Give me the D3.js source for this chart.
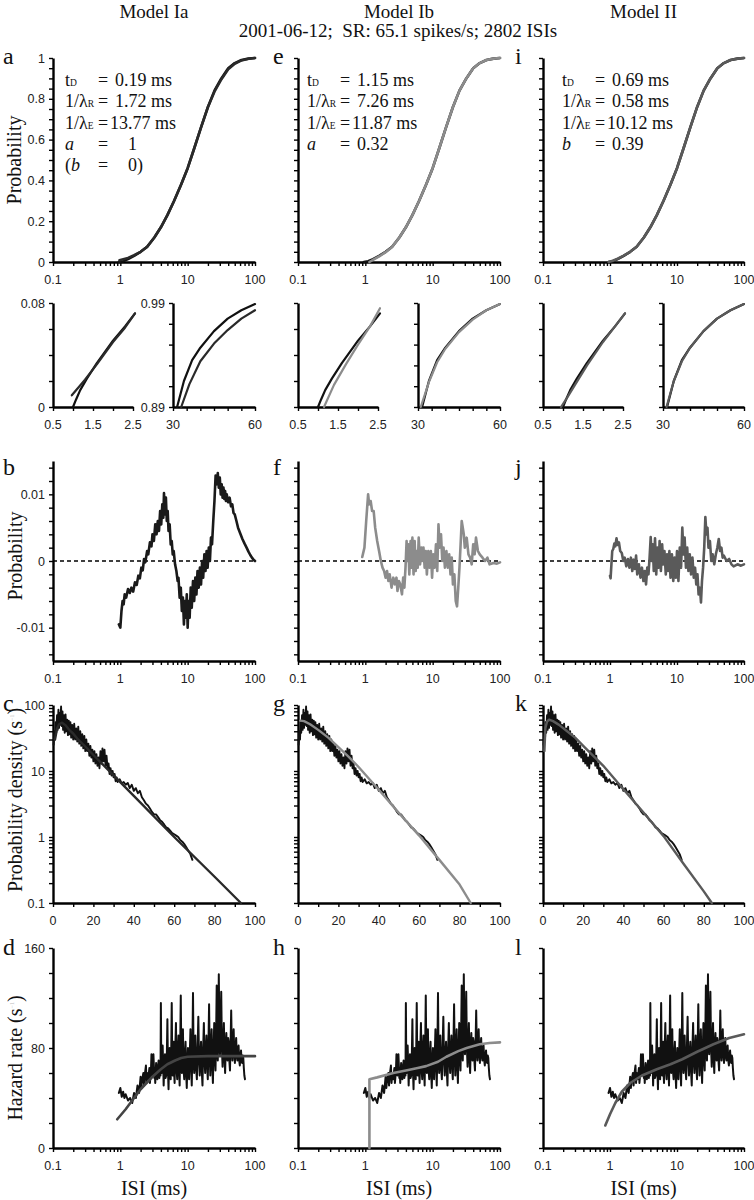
<!DOCTYPE html>
<html>
<head>
<meta charset="utf-8">
<title>ISI distribution fits</title>
<script src="https://cdn.jsdelivr.net/npm/d3@7"></script>
<style>
  body { margin: 0; background: #fff; }
  svg text { font-family: "Liberation Serif", "Times New Roman", serif; fill: #111; }
  svg text.tick-lab { font-family: "Liberation Sans", Arial, sans-serif; font-size: 12.5px; fill: #222; }
</style>
</head>
<body>
<svg id="fig" width="754" height="1200"></svg>
<script>
// ---- text ----
var modelTitles = ["Model Ia", "Model Ib", "Model II"];
var subtitle = "2001-06-12;  SR: 65.1 spikes/s; 2802 ISIs";
var panelLetters = [["a","b","c","d"], ["e","f","g","h"], ["i","j","k","l"]];
var paramNames = [["tD","R","E","a","(b"], ["tD","R","E","a"], ["tD","R","E","b"]];
var paramValues = [["0.19 ms","1.72 ms","13.77 ms","1","0)"],
                   ["1.15 ms","7.26 ms","11.87 ms","0.32"],
                   ["0.69 ms","0.58 ms","10.12 ms","0.39"]];

// ---- tick labels ----
var logLabels = [0.1, 1, 10, 100];
var cdfYLabels = [0, 0.2, 0.4, 0.6, 0.8, 1];
var residYLabels = [-10, 0, 10];      // x 1e-3
var densYLabels = [0.1, 1, 10, 100];
var densXLabels = [0, 20, 40, 60, 80, 100];
var hazYLabels = [0, 80, 160];
var insetLXLabels = [0.5, 1.5, 2.5];
var insetLYLabels = [0, 0.08];
var insetRXLabels = [30, 60];
var insetRYLabels = [0.89, 0.99];

// ---- cumulative distribution (ISI ms, probability) ----
var cdfData = [[0.95,0],[1.1,0.004],[1.3,0.014],[1.6,0.03],[2,0.05],[2.5,0.075],[3.2,0.12],[4,0.17],[5,0.23],[6.3,0.3],[8,0.38],[10,0.46],[12.6,0.56],[15.8,0.66],[20,0.76],[25,0.84],[31.6,0.9],[40,0.95],[50,0.975],[63,0.99],[80,0.997],[100,1]];
var cdfIa = [[0.97,0.009],[1.3,0.02],[1.6,0.033],[2,0.05],[2.5,0.074],[3.2,0.12],[4,0.17],[5,0.23],[6.3,0.3],[8,0.38],[10,0.46],[12.6,0.56],[15.8,0.66],[20,0.76],[25,0.835],[31.6,0.895],[40,0.945],[50,0.972],[63,0.988],[80,0.996],[100,1]];
var cdfIb = [[1.15,0],[1.4,0.017],[1.7,0.033],[2,0.048],[2.5,0.074],[3.2,0.12],[4,0.17],[5,0.23],[6.3,0.3],[8,0.38],[10,0.46],[12.6,0.56],[15.8,0.66],[20,0.76],[25,0.84],[31.6,0.9],[40,0.95],[50,0.975],[63,0.99],[80,0.997],[100,1]];
var cdfII = [[0.95,0],[1.1,0.006],[1.3,0.016],[1.6,0.031],[2,0.05],[2.5,0.075],[3.2,0.12],[4,0.17],[5,0.23],[6.3,0.3],[8,0.38],[10,0.46],[12.6,0.56],[15.8,0.66],[20,0.76],[25,0.84],[31.6,0.9],[40,0.95],[50,0.975],[63,0.99],[80,0.997],[100,1]];

// ---- insets: early part (0.5-2.5 ms) and tail (30-60 ms) ----
var earlyData = [[1.0,0],[1.08,0.006],[1.18,0.013],[1.35,0.022],[1.6,0.034],[2.0,0.051],[2.3,0.062],[2.55,0.072]];
var earlyIa = [[0.97,0.009],[1.3,0.021],[1.6,0.033],[2.0,0.05],[2.3,0.061],[2.55,0.072]];
var earlyIb = [[1.15,0],[1.4,0.017],[1.7,0.033],[2.0,0.048],[2.3,0.062],[2.55,0.076]];
var earlyII = [[0.95,0],[1.1,0.007],[1.3,0.017],[1.6,0.032],[2.0,0.05],[2.3,0.062],[2.55,0.072]];
var tailData = [[31.5,0.89],[34,0.915],[37,0.935],[40,0.947],[45,0.963],[50,0.975],[55,0.983],[60,0.989]];
var tailIa = [[33,0.89],[36,0.912],[40,0.934],[45,0.951],[50,0.964],[55,0.975],[60,0.983]];
var tailIb = [[31,0.89],[34,0.914],[37,0.933],[40,0.946],[45,0.962],[50,0.974],[55,0.983],[60,0.989]];
var tailII = [[31.3,0.89],[34,0.915],[37,0.934],[40,0.947],[45,0.963],[50,0.975],[55,0.983],[60,0.989]];

// ---- residuals, probability x 1e-3 ----
var residIa = [[0.95,-9.5],[1.0,-10],[1.04,-7.5],[1.08,-6],[1.12,-6.5],[1.16,-5],[1.22,-5.5],[1.3,-4.2],[1.38,-4.8],[1.46,-4],[1.55,-4.6],[1.65,-3.2],[1.75,-3.6],[1.85,-2.2],[1.95,-2.6],[2.05,-1],[2.15,-1.4],[2.25,0.3],[2.35,-0.2],[2.5,1.5],[2.6,1],[2.75,2.8],[2.9,2.2],[3.0,4],[3.15,3],[3.3,5.5],[3.45,4],[3.6,6],[3.75,4.5],[3.9,7.5],[4.05,5.5],[4.2,8.5],[4.35,6.5],[4.45,10.2],[4.6,7],[4.75,9.5],[4.9,6],[5.05,7.5],[5.2,4.5],[5.4,5.5],[5.6,2.5],[5.8,3],[6.0,1],[6.2,1.5],[6.5,-0.5],[6.8,-1.5],[7.1,-3],[7.3,-2.5],[7.6,-5.5],[7.9,-4],[8.2,-7.5],[8.5,-5.5],[8.8,-9.5],[9.1,-6],[9.4,-8.5],[9.7,-5],[10,-10],[10.3,-6],[10.7,-8.5],[11.1,-4],[11.5,-7],[12,-3],[12.5,-6],[13,-2.5],[13.5,-5],[14,-1.5],[14.6,-4],[15.2,-1],[15.8,-3.5],[16.4,0],[17,-2.5],[17.7,1],[18.4,-1.5],[19.1,1.5],[19.8,-1],[20.6,2],[21.4,0],[22.2,3.5],[23,2.5],[24,6],[25,9],[26,12.8],[27,11.5],[28,13.2],[29,11],[30,12.5],[31,10],[32,11.5],[33,9.5],[34,11],[35,9.3],[36,10.5],[37,9],[38,10],[40,8.8],[42,9.5],[44,8.2],[46,8.5],[48,7.2],[50,7],[53,6],[56,5],[60,4.2],[65,3.3],[70,2.6],[75,2],[80,1.4],[85,0.9],[90,0.5],[95,0.2],[100,0]];
var residIb = [[0.9,0.6],[0.97,2],[1.03,6],[1.1,10],[1.14,8.5],[1.2,9],[1.26,7.5],[1.33,7.5],[1.4,5],[1.5,3],[1.6,1.5],[1.7,0],[1.8,-1],[1.9,-1.5],[2.0,-2.5],[2.1,-1.5],[2.2,-3],[2.3,-2],[2.45,-4],[2.6,-2.5],[2.75,-3.5],[2.9,-2.5],[3.0,-4.5],[3.15,-3],[3.3,-3.5],[3.5,-5],[3.65,-2.5],[3.8,-4],[3.95,-1],[4.1,3],[4.2,0],[4.35,2.5],[4.5,-2],[4.7,3],[4.85,-1],[5.0,3.5],[5.2,-2],[5.4,3],[5.6,-1.5],[5.8,1.5],[6,-1],[6.2,3.5],[6.5,-0.5],[6.8,2],[7,0],[7.3,2],[7.6,-1],[7.9,1.5],[8.2,-2],[8.6,1.5],[9,-1],[9.4,1.5],[9.8,-2.5],[10.2,1],[10.7,-1],[11.2,2.5],[11.7,-1.5],[12.2,5.5],[12.7,2],[13.3,4],[13.9,0],[14.5,2],[15.2,-1],[16,1.5],[16.8,-1],[17.6,1],[18.4,-2],[19.2,0.5],[20,-3.5],[21,-2],[22,-6],[23,-6.8],[24,-4],[25,-1],[26,2.5],[27,6],[28,5],[29,4],[30,2],[32,3.5],[34,1],[36,0.5],[38,-0.5],[40,2.5],[42,1],[44,3.5],[47,1.5],[50,1],[55,0.5],[60,0],[65,0.5],[70,-0.5],[80,-0.3],[90,-0.4],[100,-0.2]];
var residII = [[1.0,-2.2],[1.02,-2.6],[1.05,-0.5],[1.08,1.5],[1.12,1.8],[1.16,2.6],[1.2,2.2],[1.25,3.4],[1.3,2.4],[1.36,2.8],[1.42,1.5],[1.5,1.2],[1.58,0],[1.66,0.5],[1.75,-0.8],[1.85,0.3],[1.95,-1],[2.05,0.5],[2.15,-1.5],[2.25,0.2],[2.35,-1.2],[2.45,0.8],[2.55,-2],[2.7,-0.5],[2.85,-2.5],[3.0,-1],[3.15,-3],[3.3,-1.5],[3.45,-3.5],[3.6,-1],[3.75,-2],[3.9,0.5],[4.05,3.6],[4.2,0],[4.35,2.5],[4.5,-1.5],[4.7,3.4],[4.9,-2],[5.1,2],[5.3,-1],[5.5,3],[5.75,-1.5],[6.0,2.5],[6.25,-0.5],[6.5,1.5],[6.8,-2],[7.1,1],[7.4,-1.5],[7.7,1.5],[8.0,-2.5],[8.4,1],[8.8,-3],[9.2,0.5],[9.6,-2.5],[10,1.5],[10.5,-3],[11,2],[11.5,-1],[12,5],[12.5,1],[13,3.5],[13.6,-1],[14.2,2],[14.8,-1.5],[15.5,1],[16.2,-2],[17,0.5],[17.8,-2.5],[18.6,-1],[19.4,-3.5],[20.2,-2],[21,-5],[22,-4],[22.8,-6.2],[23.6,-3],[24.5,-1],[25.5,2],[26.5,6.6],[27.5,4],[28.5,5],[29.5,2],[31,3],[32.5,0],[34,1],[36,-0.5],[38,1],[40,2],[42,3.3],[44,1.5],[46,2],[48,0.5],[50,0.8],[55,0],[60,0.3],[65,-0.5],[70,-0.8],[80,-0.5],[90,-0.7],[100,-0.5]];

// ---- probability density (ISI ms, 1/s) ----
var densData = [[0.3,25],[0.7,40],[1.0,30],[1.3,55],[1.6,38],[2.0,70],[2.3,42],[2.7,85],[3.0,45],[3.3,75],[3.6,50],[4.0,95],[4.3,48],[4.7,80],[5.0,42],[5.4,70],[5.8,38],[6.2,72],[6.6,40],[7.0,60],[7.4,35],[7.8,58],[8.2,36],[8.6,55],[9.0,32],[9.5,50],[10,30],[10.5,52],[11,30],[11.5,44],[12,28],[12.5,47],[13,26],[13.5,40],[14,24],[14.5,36],[15,22],[15.5,34],[16,20],[16.5,30],[17,20],[17.5,26],[18,17],[18.5,24],[19,16],[19.5,21],[20,14],[20.5,20],[21,13],[21.5,18],[22,12],[22.5,16],[23,11],[23.5,20],[24,13],[24.5,22],[25,14],[25.5,21],[26,12],[26.5,17],[27,11],[27.5,13],[28,9],[28.5,11],[29,8.5],[29.5,10],[30,8],[30.5,9],[31,7],[31.5,8],[32,6.8],[33,7.5],[34,6.5],[35,6.8],[36,6.2],[37,6.6],[38,5.5],[39,6.2],[40,5],[41,5.5],[42,4.6],[43,5],[44,4],[45,3.6],[46,3.2],[47,3],[48,2.7],[49,2.4],[50,2.2],[51,2.2],[52,2.0],[53,1.8],[54,1.7],[55,1.55],[56,1.4],[57,1.35],[58,1.25],[59,1.15],[60,1.1],[61,1.05],[62,1.0],[63,0.9],[64,0.85],[65,0.78],[66,0.7],[67,0.62],[68,0.55],[69,0.45]];
var densIa = [[1,30],[2,44],[3,51],[4.5,54],[6,50],[8,42],[10,37],[12,31],[16,23.5],[20,17.5],[30,8.6],[40,4.2],[60,1.0],[80,0.25],[93,0.1]];
var densIb = [[1.15,58],[3,57],[6,51],[10,42],[15,32],[20,23],[25,16.5],[30,11.5],[40,5.2],[50,2.3],[60,1.05],[70,0.45],[80,0.19],[85.5,0.1]];
var densII = [[0.7,20],[1.2,45],[2,56],[3,60],[5,57],[8,50],[12,40],[16,32],[20,24],[25,17],[30,12],[40,5.3],[50,2.35],[60,1.03],[70,0.39],[80,0.15],[84,0.1]];

// ---- hazard rate (ISI ms, 1/s) ----
var hazData = [[0.95,44],[1.0,48],[1.05,41],[1.1,45],[1.15,40],[1.2,43],[1.3,38],[1.4,40],[1.5,36],[1.6,44],[1.7,40],[1.8,50],[1.9,44],[2.0,57],[2.05,48],[2.1,54],[2.2,60],[2.25,50],[2.3,58],[2.4,66],[2.45,52],[2.5,60],[2.6,55],[2.7,64],[2.75,52],[2.85,62],[2.9,75],[3.0,58],[3.05,66],[3.1,75],[3.2,56],[3.25,62],[3.3,52],[3.4,68],[3.5,60],[3.55,55],[3.65,66],[3.7,70],[3.8,56],[3.85,64],[3.95,58],[4.0,116],[4.05,72],[4.1,60],[4.2,75],[4.25,82],[4.35,62],[4.4,50],[4.5,68],[4.6,75],[4.7,56],[4.8,58],[4.9,72],[5.0,103],[5.1,62],[5.2,47],[5.3,70],[5.4,80],[5.5,60],[5.6,55],[5.7,78],[5.8,116],[5.9,70],[6.0,58],[6.1,74],[6.2,85],[6.3,60],[6.4,52],[6.55,80],[6.7,100],[6.85,62],[7.0,55],[7.15,78],[7.3,90],[7.45,64],[7.6,50],[7.75,82],[7.9,122],[8.05,72],[8.2,60],[8.35,80],[8.5,95],[8.7,62],[8.9,55],[9.1,74],[9.3,85],[9.5,60],[9.7,48],[9.9,68],[10.1,80],[10.3,62],[10.5,55],[10.75,75],[11,95],[11.25,66],[11.5,50],[11.75,78],[12,124],[12.25,72],[12.5,60],[12.75,76],[13,90],[13.35,64],[13.7,55],[14.05,80],[14.4,105],[14.75,70],[15.1,58],[15.45,74],[15.8,85],[16.2,62],[16.6,50],[17,80],[17.4,100],[17.8,70],[18.2,60],[18.6,78],[19,90],[19.45,66],[19.9,55],[20.35,82],[20.8,115],[21.25,74],[21.7,58],[22.2,80],[22.7,95],[23.2,66],[23.7,52],[24.25,78],[24.8,100],[25.35,72],[25.9,62],[26.45,90],[27,130],[27.5,85],[28,70],[28.5,95],[29,139],[29.6,90],[30.2,75],[30.85,100],[31.5,125],[32.25,80],[33,65],[33.75,84],[34.5,100],[35.25,72],[36,60],[36.75,80],[37.5,92],[38.25,74],[39,70],[39.85,88],[40.7,85],[41.6,70],[42.5,62],[43.4,84],[44.3,110],[45.25,80],[46.2,70],[47.2,84],[48.2,95],[49.25,75],[50.3,68],[51.4,80],[52.5,88],[53.6,74],[54.7,70],[55.85,78],[57,82],[58.25,70],[59.5,66],[60.75,74],[62,78],[63.25,70],[64.5,68],[65.75,74],[67,72],[68.25,64],[69.5,58],[71,55]];
var hazIa = [[0.9,23],[1.2,31],[1.5,38],[2,47],[3,57],[4,63],[5,67],[6.5,70],[8,72],[10,73],[20,73.5],[50,73.5],[100,73.5]];
var hazIb = [[1.15,0],[1.15,55],[1.5,56.5],[2.6,60],[4,62],[6,64],[8,65.5],[12,69],[16,73],[24,77.5],[32,80],[50,83],[70,84],[100,84.5]];
var hazII = [[0.85,18],[1.0,27],[1.2,36],[1.5,45],[2,52],[3,58],[5,63],[8,67],[12,71],[20,77],[35,83],[60,88],[100,91]];

var svg = d3.select("#fig");
var colX = [[53,255],[298,500],[543,744]];
var modelColor = ["#2a2a2a", "#8c8c8c", "#5a5a5a"];
var nameX = [65, 307, 562];

var cdfModels = [cdfIa, cdfIb, cdfII];
var earlyModels = [earlyIa, earlyIb, earlyII];
var tailModels = [tailIa, tailIb, tailII];
var residModels = [residIa, residIb, residII];
var densModels = [densIa, densIb, densII];
var hazModels = [hazIa, hazIb, hazII];

function axes(g, x, y, xt, yt) {
  var xa = g.append("g").attr("transform", "translate(0," + y.range()[0] + ")")
    .call(d3.axisBottom(x).tickValues(xt).tickSize(4).tickSizeOuter(0).tickFormat(""));
  var ya = g.append("g").attr("transform", "translate(" + x.range()[0] + ",0)")
    .call(d3.axisLeft(y).tickValues(yt).tickSize(4).tickSizeOuter(0).tickFormat(""));
  [xa, ya].forEach(function(a) {
    a.select(".domain").attr("stroke", "#000").attr("stroke-width", 2.4);
    a.selectAll(".tick line").attr("stroke", "#000").attr("stroke-width", 1.4);
  });
}

function xLabels(g, x, y, vals, fmt) {
  g.selectAll(null).data(vals).join("text").attr("class", "tick-lab")
    .attr("x", function(d) { return x(d); }).attr("y", y.range()[0] + 22)
    .attr("text-anchor", "middle").text(fmt || String);
}
function yLabels(g, x, y, vals, fmt) {
  g.selectAll(null).data(vals).join("text").attr("class", "tick-lab")
    .attr("x", x.range()[0] - 8).attr("y", function(d) { return y(d) + 4.5; })
    .attr("text-anchor", "end").text(fmt || String);
}
function trace(g, x, y, data, color, w) {
  g.append("path").datum(data)
    .attr("d", d3.line().x(function(d) { return x(d[0]); }).y(function(d) { return y(d[1]); }))
    .attr("fill", "none").attr("stroke", color).attr("stroke-width", w)
    .attr("stroke-linejoin", "round").attr("stroke-linecap", "round");
}
function yTitle(x, y, parts) {
  var t = svg.append("text").attr("transform", "translate(" + x + "," + y + ") rotate(-90)")
    .attr("text-anchor", "middle").attr("font-size", 20);
  t.append("tspan").text(parts[0]);
  if (parts.length > 1) {
    t.append("tspan").attr("font-size", 6).attr("dy", -8).attr("fill", "#bbb").text("−1");
    t.append("tspan").attr("dy", 8).text(")");
  }
}

// titles
svg.selectAll(null).data(modelTitles).join("text")
  .attr("x", function(d, i) { return (colX[i][0] + colX[i][1]) / 2; }).attr("y", 18)
  .attr("text-anchor", "middle").attr("font-size", 19).text(function(d) { return d; });
svg.append("text").attr("x", 398).attr("y", 37).attr("text-anchor", "middle")
  .attr("font-size", 19).attr("xml:space", "preserve").text(subtitle);

// panel letters
var letterX = [3, 273, 515];
var letterY = [64, 475, 711, 955];
panelLetters.forEach(function(col, c) {
  col.forEach(function(l, r) {
    svg.append("text").attr("x", letterX[c]).attr("y", letterY[r]).attr("font-size", 24).text(l);
  });
});

// axis titles
yTitle(21, 160, ["Probability"]);
yTitle(22, 556, ["Probability"]);
yTitle(22, 800, ["Probability density (s", "−1"]);
yTitle(22, 1058, ["Hazard rate (s", "−1"]);

colX.forEach(function(cx, c) {
  var x0 = cx[0], x1 = cx[1];
  var g = svg.append("g");
  var col = modelColor[c];

  // row A: cumulative distribution
  var xA = d3.scaleLog().domain([0.1, 100]).range([x0, x1]);
  var yA = d3.scaleLinear().domain([0, 1]).range([262, 58]);
  axes(g, xA, yA, xA.ticks(), yA.ticks(20));
  xLabels(g, xA, yA, logLabels);
  if (c === 0) yLabels(g, xA, yA, cdfYLabels);
  trace(g, xA, yA, cdfData, "#111", 2.6);
  trace(g, xA, yA, cdfModels[c], col, 2.6);

  // parameters
  paramNames[c].forEach(function(nm, i) {
    var yy = 86 + i * 21.3, xx = nameX[c];
    var t = g.append("text").attr("x", xx).attr("y", yy).attr("font-size", 18);
    if (nm === "tD") { t.append("tspan").text("t"); t.append("tspan").attr("font-size", 9.5).text("D"); }
    else if (nm === "R" || nm === "E") { t.append("tspan").text("1/λ"); t.append("tspan").attr("font-size", 9.5).text(nm); }
    else if (nm === "(b") { t.append("tspan").text("("); t.append("tspan").attr("font-style", "italic").text("b"); }
    else t.append("tspan").attr("font-style", "italic").text(nm);
    g.append("text").attr("x", xx + 38).attr("y", yy).attr("text-anchor", "middle").attr("font-size", 18).text("=");
    var v = paramValues[c][i];
    var off = /^\d\d\./.test(v) ? 45 : (v.length <= 2 ? 63 : 50);
    g.append("text").attr("x", xx + off).attr("y", yy).attr("font-size", 18).text(v);
  });

  // insets
  var xE = d3.scaleLinear().domain([0.5, 2.5]).range([x0, x0 + 80]);
  var yE = d3.scaleLinear().domain([0, 0.08]).range([407, 303]);
  axes(g, xE, yE, xE.ticks(4), yE.ticks(4));
  xLabels(g, xE, yE, insetLXLabels);
  if (c === 0) yLabels(g, xE, yE, insetLYLabels);
  trace(g, xE, yE, earlyData, "#111", 2.2);
  trace(g, xE, yE, earlyModels[c], col, 2.2);

  var xT = d3.scaleLinear().domain([30, 60]).range([x0 + 120, x1]);
  var yT = d3.scaleLinear().domain([0.89, 0.99]).range([407, 303]);
  axes(g, xT, yT, xT.ticks(6), d3.range(0.89, 0.995, 0.02));
  xLabels(g, xT, yT, insetRXLabels);
  if (c === 0) yLabels(g, xT, yT, insetRYLabels);
  trace(g, xT, yT, tailData, "#111", 2.2);
  trace(g, xT, yT, tailModels[c], col, 2.2);

  // row B: residuals
  var xB = d3.scaleLog().domain([0.1, 100]).range([x0, x1]);
  var yB = d3.scaleLinear().domain([-15, 15]).range([661, 461]);
  axes(g, xB, yB, xB.ticks(), yB.ticks(12));
  xLabels(g, xB, yB, logLabels);
  if (c === 0) yLabels(g, xB, yB, residYLabels, function(d) { return d === 0 ? "0" : String(d / 1000); });
  g.append("line").attr("x1", x0).attr("x2", x1).attr("y1", yB(0)).attr("y2", yB(0))
    .attr("stroke", "#000").attr("stroke-width", 1.6).attr("stroke-dasharray", "4,3");
  trace(g, xB, yB, residModels[c], c === 0 ? "#1a1a1a" : col, 2.6);

  // row C: probability density
  var xC = d3.scaleLinear().domain([0, 100]).range([x0, x1]);
  var yC = d3.scaleLog().domain([0.1, 100]).range([903, 705]);
  axes(g, xC, yC, xC.ticks(10), yC.ticks());
  xLabels(g, xC, yC, densXLabels);
  if (c === 0) yLabels(g, xC, yC, densYLabels);
  trace(g, xC, yC, densData, "#111", 1.9);
  trace(g, xC, yC, densModels[c], col, 2.4);

  // row D: hazard rate
  var xD = d3.scaleLog().domain([0.1, 100]).range([x0, x1]);
  var yD = d3.scaleLinear().domain([0, 160]).range([1148, 948]);
  axes(g, xD, yD, xD.ticks(), yD.ticks(8));
  xLabels(g, xD, yD, logLabels);
  if (c === 0) yLabels(g, xD, yD, hazYLabels);
  trace(g, xD, yD, hazData, "#111", 2);
  trace(g, xD, yD, hazModels[c], col === "#2a2a2a" ? "#444" : col, 2.6);
  g.append("text").attr("x", (x0 + x1) / 2).attr("y", 1195).attr("text-anchor", "middle")
    .attr("font-size", 20).text("ISI (ms)");
});
</script>
</body>
</html>
